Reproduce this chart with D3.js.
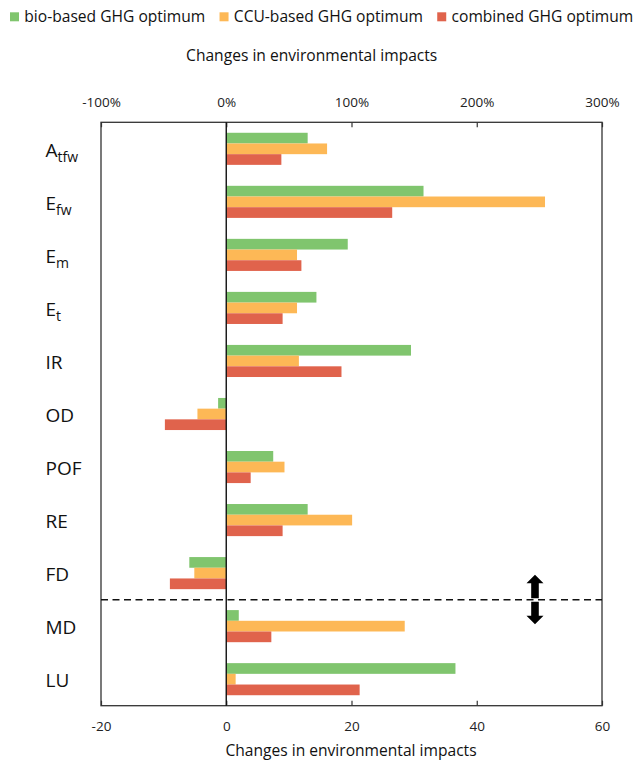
<!DOCTYPE html>
<html>
<head>
<meta charset="utf-8">
<script src="https://cdn.jsdelivr.net/npm/d3@7"></script>
<style>
  html, body { margin: 0; padding: 0; background: #fff; }
  svg { display: block; font-family: "Open Sans", sans-serif; }
</style>
</head>
<body>
<svg id="chart" width="636" height="761"></svg>
<script>
// ---- data ----
const categories = ["A_tfw", "E_fw", "E_m", "E_t", "IR", "OD", "POF", "RE", "FD", "MD", "LU"];
const catMain    = ["A", "E", "E", "E", "IR", "OD", "POF", "RE", "FD", "MD", "LU"];
const catSub     = ["tfw", "fw", "m", "t", "", "", "", "", "", "", ""];
const seriesNames = ["bio-based GHG optimum", "CCU-based GHG optimum", "combined GHG optimum"];
const bioValues      = [13.0, 31.5, 19.4, 14.4, 29.5, -1.3, 7.5, 13.0, -5.9, 2.0, 36.6];
const ccuValues      = [16.1, 50.9, 11.3, 11.3, 11.6, -4.6, 9.3, 20.1, -5.1, 28.5, 1.5];
const combinedValues = [8.8, 26.5, 12.0, 9.0, 18.4, -9.8, 3.9, 9.0, -9.0, 7.2, 21.3];
const bottomTicks = [-20, 0, 20, 40, 60];
const topTicks = [-100, 0, 100, 200, 300];
const axisTitle = "Changes in environmental impacts";

// ---- styles ----
const colors = ["#80c56e", "#fdb856", "#e0634c"];
const seriesValues = [bioValues, ccuValues, combinedValues];

const svg = d3.select("#chart");
const L = 101, R = 602, T = 122.3, B = 705.7;

const x = d3.scaleLinear().domain([-20, 60]).range([L, R]);
const xTop = d3.scaleLinear().domain([-100, 300]).range([L, R]);
const y0 = d3.scaleBand().domain(categories).range([T, B]).paddingInner(0.395).paddingOuter(0.1975);
const y1 = d3.scaleBand().domain(seriesNames).range([0, y0.bandwidth()]);

// bars
const rows = [];
categories.forEach((c, i) => {
  seriesNames.forEach((s, j) => rows.push({ c, s, j, v: seriesValues[j][i] }));
});
svg.append("g").selectAll("rect").data(rows).join("rect")
  .attr("x", d => x(Math.min(0, d.v)))
  .attr("width", d => Math.abs(x(d.v) - x(0)))
  .attr("y", d => y0(d.c) + y1(d.s))
  .attr("height", y1.bandwidth())
  .attr("fill", d => colors[d.j]);

// axes
const gb = svg.append("g").attr("transform", `translate(0,${B})`)
  .call(d3.axisBottom(x).tickValues(bottomTicks).tickSize(-5).tickPadding(16).tickFormat(d => String(d)));
gb.select(".domain").remove();
gb.selectAll("line").attr("stroke", "#333").attr("stroke-width", 1.2);
gb.selectAll("text").attr("font-size", 13.5).attr("fill", "#222").attr("font-family", "Open Sans");

const gt = svg.append("g").attr("transform", `translate(0,${T})`)
  .call(d3.axisTop(xTop).tickValues(topTicks).tickSize(-5).tickPadding(15).tickFormat(d => d + "%"));
gt.select(".domain").remove();
gt.selectAll("line").attr("stroke", "#333").attr("stroke-width", 1.2);
gt.selectAll("text").attr("font-size", 13.5).attr("fill", "#222").attr("font-family", "Open Sans");

// frame
svg.append("rect").attr("x", L).attr("y", T).attr("width", R - L).attr("height", B - T)
  .attr("fill", "none").attr("stroke", "#333").attr("stroke-width", 1.3);
// zero line
svg.append("line").attr("x1", x(0)).attr("x2", x(0)).attr("y1", T).attr("y2", B)
  .attr("stroke", "#111").attr("stroke-width", 1.4);

// category labels
const lab = svg.append("g").selectAll("text").data(categories).join("text")
  .attr("x", 45.5)
  .attr("y", d => y0(d) + y0.bandwidth() / 2 + 8)
  .attr("font-size", 19).attr("fill", "#111");
lab.each(function (d, i) {
  const t = d3.select(this);
  t.append("tspan").text(catMain[i]);
  if (catSub[i]) t.append("tspan").attr("font-size", 14).attr("dy", 5).text(catSub[i]);
});

// dashed separator between FD and MD
const sepY = y0("MD") - (y0.step() - y0.bandwidth()) / 2;
svg.append("line").attr("x1", L).attr("x2", R).attr("y1", sepY).attr("y2", sepY)
  .attr("stroke", "#111").attr("stroke-width", 1.5).attr("stroke-dasharray", "7,4.5");

// double arrow
const ax = x(49.3);
const up = [[ax, sepY - 25], [ax + 8.5, sepY - 16.5], [ax + 3.8, sepY - 16.5], [ax + 3.8, sepY - 1.5],
            [ax - 3.8, sepY - 1.5], [ax - 3.8, sepY - 16.5], [ax - 8.5, sepY - 16.5]];
const dn = [[ax, sepY + 24.5], [ax + 8.5, sepY + 16], [ax + 3.8, sepY + 16], [ax + 3.8, sepY + 2],
            [ax - 3.8, sepY + 2], [ax - 3.8, sepY + 16], [ax - 8.5, sepY + 16]];
[up, dn].forEach(p => svg.append("path").attr("d", d3.line()(p) + "Z").attr("fill", "#000"));

// titles
svg.append("text").attr("x", 311.7).attr("y", 61.3).attr("text-anchor", "middle")
  .attr("font-size", 15.6).attr("fill", "#111").text(axisTitle);
svg.append("text").attr("x", 351).attr("y", 756.3).attr("text-anchor", "middle")
  .attr("font-size", 15.6).attr("fill", "#111").text(axisTitle);

// legend
let lx = 10;
seriesNames.forEach((s, j) => {
  svg.append("rect").attr("x", lx).attr("y", 12.3).attr("width", 9).attr("height", 9).attr("fill", colors[j]);
  const t = svg.append("text").attr("x", lx + 14.3).attr("y", 22.3)
    .attr("font-size", 15.6).attr("fill", "#111").text(s);
  lx = lx + 14.3 + t.node().getComputedTextLength() + 14.3;
});
</script>
</body>
</html>
